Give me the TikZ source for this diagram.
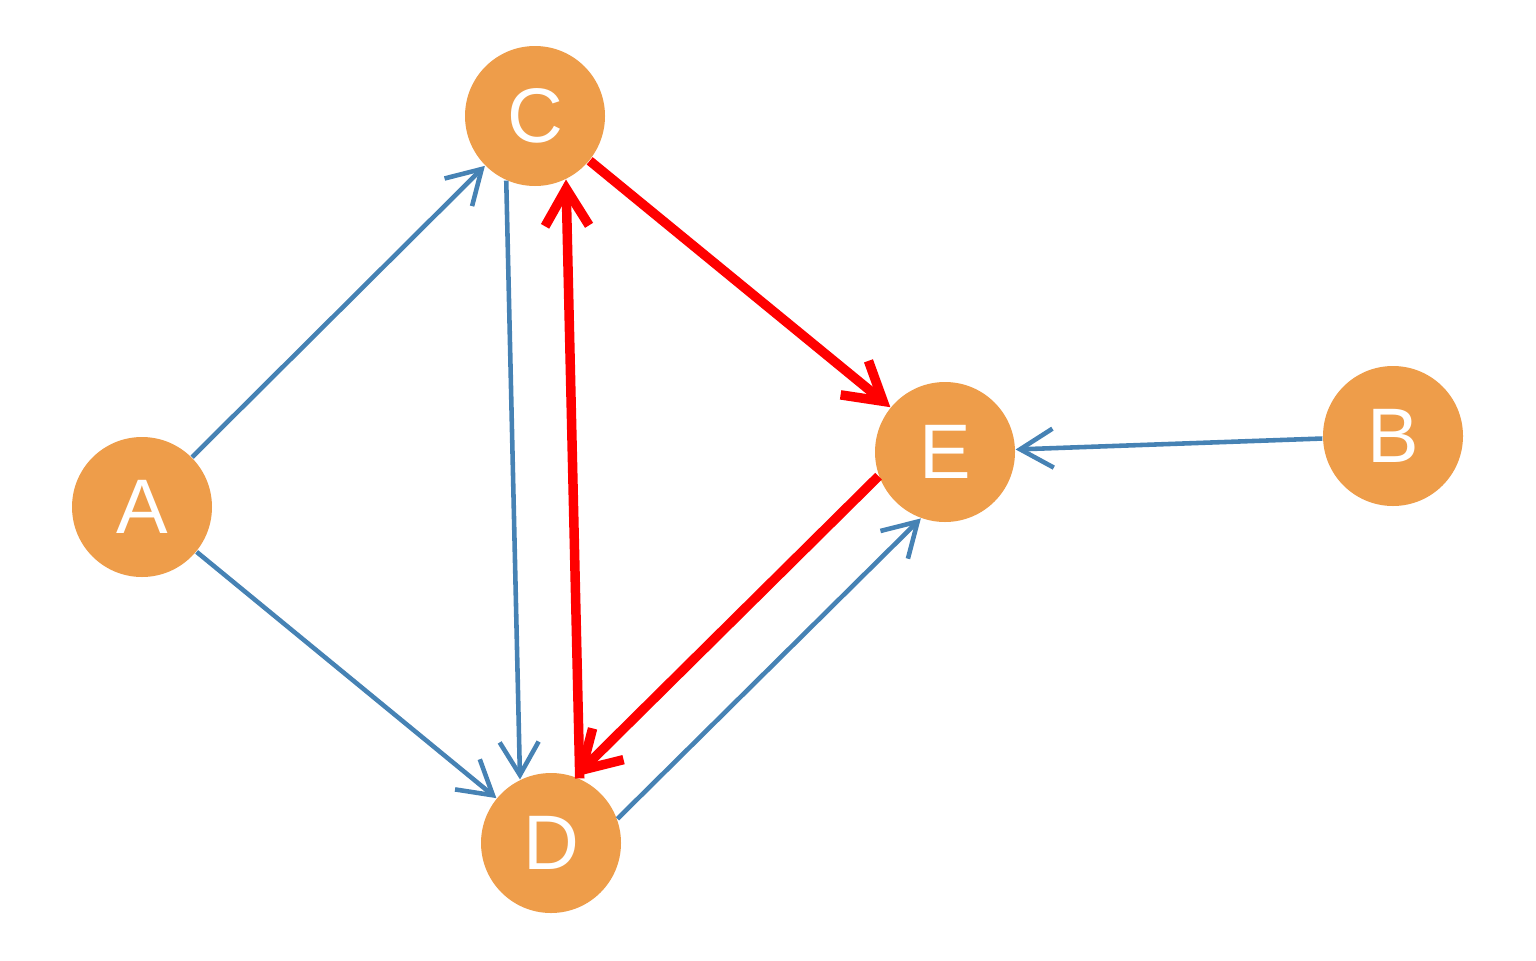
\documentclass[tikz,border=0pt]{standalone}
\usepackage{fontspec}
\setmainfont{Liberation Sans}
\usetikzlibrary{arrows.meta}
\definecolor{nodeorange}{RGB}{238,157,74}
\definecolor{edgeblue}{RGB}{70,130,180}
\definecolor{edgered}{RGB}{255,0,0}
\tikzset{
    vertex/.style={circle, fill=nodeorange, draw=none,
        minimum size=1.4cm, inner sep=0pt, text=white,
        font=\fontsize{22}{22}\selectfont},
    plainedge/.style={draw=edgeblue, line width=1.3pt,
        -{Straight Barb[length=3.3mm, width=3.9mm]}},
    pathedge/.style={draw=edgered, line width=2.7pt,
        -{Straight Barb[length=3.7mm, width=4.4mm]}}
}

\begin{document}
\begin{tikzpicture}
\useasboundingbox (0,0) rectangle (15.36,9.6);

% Vertices
\node[vertex] (A) at (1.42,4.53) {A};
\node[vertex] (C) at (5.35,8.44) {C};
\node[vertex] (D) at (5.51,1.17) {D};
\node[vertex] (E) at (9.45,5.08) {E};
\node[vertex] (B) at (13.93,5.24) {B};

% Blue edges
\draw[plainedge] (A) -- (C);
\draw[plainedge] (A) -- (D);
\draw[plainedge] (C.246) -- (D.116);
\draw[plainedge] (D.20) -- (E.250);
\draw[plainedge] (B) -- (E);

% Red edges
\draw[pathedge] (C) -- (E);
\draw[pathedge] (E.200) -- (D.70);
\draw[pathedge] (D.66) -- (C.296);

\end{tikzpicture}
\end{document}
